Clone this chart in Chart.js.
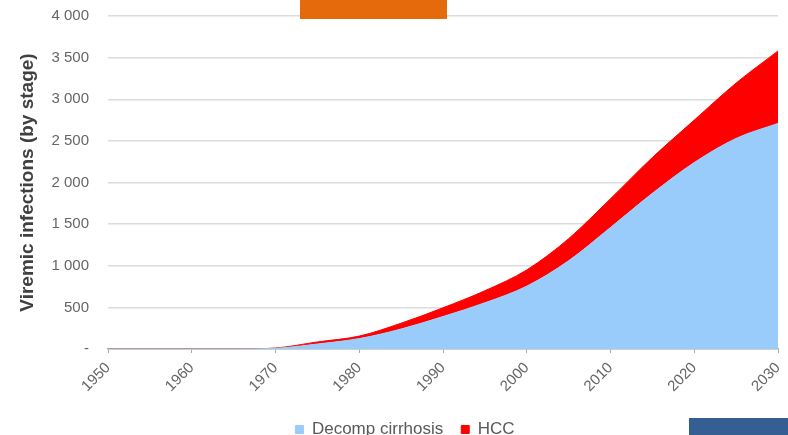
<!DOCTYPE html>
<html>
<head>
<meta charset="utf-8">
<script src="https://cdn.jsdelivr.net/npm/chart.js@4"></script>
<style>
  body { margin: 0; background: #fff; }
  #wrap { position: relative; width: 788px; height: 435px; }
  .box { position: absolute; }
  #topBox { left: 300px; top: 0; width: 147px; height: 19px; background: #e56a0c; }
  #bottomBox { left: 689px; top: 418px; width: 99px; height: 17px; background: #355f93; }
</style>
</head>
<body>
<div id="wrap">
  <canvas id="chart" width="788" height="435"></canvas>
  <div class="box" id="topBox"></div>
  <div class="box" id="bottomBox"></div>
</div>
<script>
const years = [1950,1955,1960,1965,1970,1975,1980,1985,1990,1995,2000,2005,2010,2015,2020,2025,2030];
const decomp = [0,0,0,0,8,60,125,240,390,555,755,1060,1460,1870,2240,2530,2710];
const hcc    = [0,0,0,0,4,25,30,70,105,145,195,265,345,430,510,665,870];
const yTicks = [0,500,1000,1500,2000,2500,3000,3500,4000];

const font = "'Liberation Sans', Arial, sans-serif";

function fmt(v){
    if(v === 0) return "-";
    return String(v).replace(/\B(?=(\d{3})+(?!\d))/g, " ");
}

new Chart(document.getElementById("chart"), {
    type: 'line',
    data: {
        datasets: [
            {
                label: "Decomp cirrhosis",
                data: years.map((y,i)=>({x:y, y:decomp[i]})),
                backgroundColor: "#99ccfb",
                borderColor: "#99ccfb",
                borderWidth: 1,
                pointRadius: 0,
                fill: 'origin',
                cubicInterpolationMode: 'monotone'
            },
            {
                label: "HCC",
                data: years.map((y,i)=>({x:y, y:hcc[i]})),
                backgroundColor: "#ff0000",
                borderColor: "#ff0000",
                borderWidth: 1,
                pointRadius: 0,
                fill: '-1',
                cubicInterpolationMode: 'monotone'
            }
        ]
    },
    options: {
        responsive: false,
        animation: false,
        layout: { padding: { left: 22, right: 0, top: 0, bottom: -13 } },
        plugins: {
            legend: {
                position: 'bottom',
                labels: {
                    boxWidth: 8,
                    boxHeight: 8,
                    padding: 18,
                    color: "#595959",
                    font: { family: font, size: 17 }
                }
            },
            tooltip: { enabled: false }
        },
        scales: {
            x: {
                type: 'linear',
                min: 1950,
                max: 2030,
                ticks: {
                    stepSize: 10,
                    minRotation: 45,
                    maxRotation: 45,
                    padding: 6,
                    color: "#666",
                    font: { family: font, size: 15 },
                    callback: v => String(v)
                },
                grid: { drawOnChartArea: false, tickLength: 4, color: "#aaa" },
                border: { color: "#b0b0b0", width: 1.5 },
                afterFit: s => { s.height = 54; s.paddingRight = 10; }
            },
            y: {
                stacked: true,
                min: 0,
                max: 4000,
                afterBuildTicks: s => { s.ticks = yTicks.map(v=>({value:v})); },
                ticks: {
                    color: "#666",
                    padding: 19,
                    font: { family: font, size: 15 },
                    callback: v => fmt(v)
                },
                grid: { color: "#dcdcdc", lineWidth: 1.5, drawTicks: false },
                border: { display: false },
                title: {
                    display: true,
                    text: "Viremic infections (by stage)",
                    color: "#404040",
                    padding: { top: -6, bottom: 0 },
                    font: { family: font, size: 19, weight: 'bold' }
                },
                afterFit: s => { s.width = 86; s.paddingTop = 16; }
            }
        }
    }
});
</script>
</body>
</html>
